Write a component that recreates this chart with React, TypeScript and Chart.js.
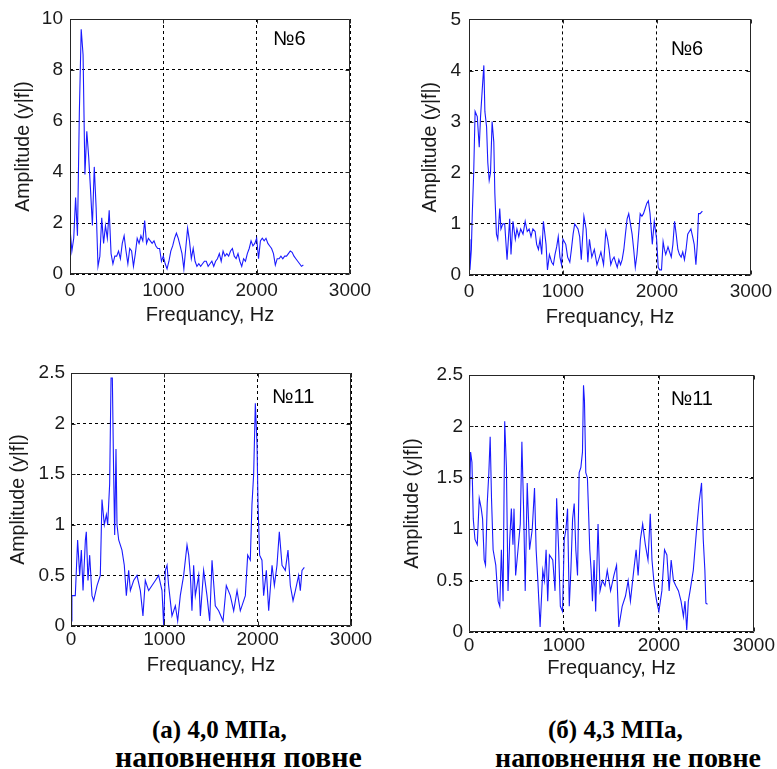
import React, { useEffect, useRef } from "react";
import { Chart, registerables } from "chart.js";

Chart.register(...registerables);

// ---------- DATA ----------
const X_TICKS = [0, 1000, 2000, 3000];
const Y_TICKS_A6 = [0, 2, 4, 6, 8, 10];
const Y_TICKS_B6 = [0, 1, 2, 3, 4, 5];
const Y_TICKS_11 = [0, 0.5, 1, 1.5, 2, 2.5];

const X_TITLE = "Frequancy, Hz";
const Y_TITLE = "Amplitude (y|f|)";

// (a) 4,0 MPa, sensor №6
const FREQ_A6 = [0, 20, 40, 60, 80, 100, 120, 140, 160, 180, 200, 220, 240, 260, 280, 300, 320, 340, 360, 380, 400, 420, 440, 460, 480, 500, 520, 540, 560, 580, 600, 620, 640, 660, 680, 700, 720, 740, 760, 780, 800, 820, 840, 860, 880, 900, 920, 940, 960, 980, 1000, 1020, 1040, 1060, 1080, 1100, 1120, 1140, 1160, 1180, 1200, 1220, 1240, 1260, 1280, 1300, 1320, 1340, 1360, 1380, 1400, 1420, 1440, 1460, 1480, 1500, 1520, 1540, 1560, 1580, 1600, 1620, 1640, 1660, 1680, 1700, 1720, 1740, 1760, 1780, 1800, 1820, 1840, 1860, 1880, 1900, 1920, 1940, 1960, 1980, 2000, 2020, 2040, 2060, 2080, 2100, 2120, 2140, 2160, 2180, 2200, 2220, 2240, 2260, 2280, 2300, 2320, 2340, 2360, 2380, 2400, 2420, 2440, 2460, 2480, 2500];
const AMP_A6 = [1.8, 0.9, 1.4, 3.0, 1.5, 6.3, 9.6, 8.6, 3.9, 5.6, 4.6, 3.3, 1.9, 4.2, 2.6, 0.3, 0.7, 2.2, 1.2, 1.9, 1.4, 2.5, 0.8, 0.4, 0.7, 0.7, 0.9, 0.6, 1.2, 1.5, 0.9, 0.4, 1.0, 0.9, 0.3, 0.8, 1.4, 1.2, 1.5, 1.3, 2.1, 1.2, 1.4, 1.3, 1.2, 1.3, 1.1, 1.0, 1.0, 0.5, 0.7, 0.4, 0.2, 0.5, 0.9, 1.1, 1.4, 1.6, 1.4, 1.1, 0.8, 0.2, 1.0, 1.8, 1.3, 0.6, 1.0, 0.5, 0.3, 0.4, 0.3, 0.4, 0.5, 0.5, 0.3, 0.4, 0.5, 0.3, 0.5, 0.6, 0.8, 0.5, 0.9, 0.7, 0.8, 0.7, 0.9, 1.0, 0.7, 0.6, 0.8, 0.5, 0.3, 0.6, 0.5, 0.8, 1.0, 1.3, 1.1, 1.2, 1.4, 0.6, 1.3, 1.4, 1.3, 1.4, 1.2, 1.1, 1.0, 0.8, 0.35, 0.6, 0.6, 0.7, 0.6, 0.7, 0.7, 0.8, 0.9, 0.85, 0.7, 0.6, 0.5, 0.4, 0.3, 0.35];

// (б) 4,3 MPa, sensor №6
const FREQ_B6 = [0, 10, 25, 35, 50, 65, 88, 109, 123, 140, 158, 169, 187, 200, 215, 229, 246, 264, 275, 292, 306, 327, 340, 360, 380, 405, 433, 447, 468, 493, 510, 530, 550, 575, 598, 620, 640, 660, 680, 704, 720, 739, 756, 774, 792, 820, 835, 856, 880, 898, 915, 933, 950, 968, 985, 1000, 1015, 1030, 1050, 1073, 1090, 1108, 1125, 1143, 1160, 1178, 1195, 1223, 1247, 1265, 1282, 1307, 1334, 1362, 1380, 1404, 1432, 1456, 1475, 1491, 1509, 1527, 1544, 1560, 1578, 1595, 1613, 1630, 1648, 1665, 1683, 1700, 1718, 1736, 1753, 1770, 1788, 1805, 1822, 1840, 1857, 1875, 1892, 1909, 1927, 1951, 1972, 1997, 2014, 2030, 2049, 2066, 2080, 2094, 2118, 2135, 2153, 2170, 2188, 2205, 2223, 2240, 2258, 2275, 2293, 2310, 2328, 2345, 2362, 2380, 2397, 2415, 2430, 2443, 2460, 2484];
const AMP_B6 = [0.7, 0.1, 0.5, 1.2, 2.0, 3.2, 3.1, 2.5, 3.1, 3.6, 4.1, 3.2, 2.9, 2.2, 1.85, 2.0, 3.0, 2.6, 1.6, 0.8, 0.7, 1.3, 0.9, 1.0, 1.0, 0.3, 1.1, 0.4, 1.05, 0.7, 0.9, 0.75, 0.9, 0.8, 1.05, 0.85, 0.9, 0.75, 0.9, 0.85, 0.6, 0.5, 0.7, 0.4, 1.05, 0.6, 0.1, 0.4, 0.25, 0.2, 0.4, 0.55, 0.75, 0.35, 0.2, 0.7, 0.65, 0.6, 0.35, 0.25, 0.5, 0.8, 1.0, 0.95, 0.9, 0.75, 0.3, 1.15, 0.9, 0.25, 0.7, 0.35, 0.5, 0.2, 0.3, 0.45, 0.2, 0.85, 0.7, 0.5, 0.2, 0.3, 0.35, 0.25, 0.15, 0.3, 0.2, 0.3, 0.5, 0.8, 1.1, 1.2, 1.0, 0.8, 0.5, 0.15, 0.4, 0.8, 1.2, 1.15, 1.2, 1.3, 1.4, 1.45, 1.2, 0.6, 1.05, 0.7, 0.15, 0.1, 0.1, 0.65, 0.5, 0.4, 0.55, 0.45, 0.35, 0.6, 1.05, 0.8, 0.5, 0.4, 0.35, 0.45, 0.3, 0.5, 0.8, 0.85, 0.9, 0.75, 0.6, 0.2, 0.6, 1.2, 1.2, 1.25];

// (a) 4,0 MPa, sensor №11
const FREQ_A11 = [0, 10, 46, 71, 93, 111, 129, 154, 164, 182, 200, 225, 243, 279, 314, 332, 357, 379, 393, 414, 429, 443, 457, 468, 482, 493, 511, 546, 571, 593, 618, 636, 671, 707, 743, 771, 796, 832, 868, 904, 939, 975, 993, 1011, 1029, 1046, 1082, 1118, 1143, 1171, 1207, 1243, 1261, 1279, 1296, 1314, 1332, 1368, 1386, 1421, 1457, 1486, 1511, 1546, 1582, 1629, 1664, 1707, 1743, 1779, 1814, 1868, 1893, 1921, 1939, 1957, 1975, 1993, 2004, 2021, 2046, 2064, 2093, 2118, 2154, 2179, 2207, 2232, 2261, 2296, 2325, 2350, 2379, 2404, 2439, 2457, 2475, 2500];
const AMP_A11 = [0.05, 0.3, 0.3, 0.85, 0.5, 0.75, 0.35, 0.85, 0.93, 0.45, 0.7, 0.3, 0.25, 0.4, 0.5, 1.25, 1.0, 1.1, 1.0, 1.4, 2.45, 2.45, 1.5, 0.9, 1.75, 1.0, 0.85, 0.75, 0.6, 0.3, 0.55, 0.35, 0.45, 0.5, 0.35, 0.1, 0.45, 0.35, 0.4, 0.45, 0.5, 0.35, 0.0, 0.55, 0.6, 0.4, 0.1, 0.2, 0.05, 0.3, 0.5, 0.8, 0.7, 0.5, 0.15, 0.6, 0.3, 0.5, 0.1, 0.55, 0.3, 0.05, 0.65, 0.2, 0.15, 0.05, 0.4, 0.3, 0.15, 0.35, 0.15, 0.3, 0.7, 0.65, 1.2, 1.5, 2.2, 1.8, 1.2, 0.7, 0.65, 0.3, 0.55, 0.15, 0.6, 0.4, 0.6, 0.93, 0.6, 0.55, 0.75, 0.4, 0.25, 0.35, 0.5, 0.35, 0.55, 0.58];

// (б) 4,3 MPa, sensor №11
const FREQ_B11 = [0, 17, 31, 45, 63, 87, 108, 129, 143, 160, 174, 192, 209, 223, 237, 254, 282, 307, 324, 341, 359, 376, 394, 411, 429, 446, 463, 474, 491, 516, 540, 557, 575, 592, 613, 638, 666, 690, 707, 725, 749, 777, 794, 812, 829, 847, 882, 906, 923, 944, 962, 985, 1003, 1021, 1038, 1056, 1073, 1091, 1108, 1125, 1143, 1160, 1178, 1195, 1206, 1216, 1230, 1247, 1258, 1272, 1286, 1300, 1317, 1334, 1359, 1380, 1404, 1432, 1456, 1491, 1526, 1554, 1578, 1613, 1648, 1676, 1700, 1735, 1760, 1781, 1805, 1829, 1857, 1885, 1909, 1927, 1951, 1976, 2000, 2031, 2059, 2084, 2108, 2129, 2153, 2178, 2206, 2233, 2258, 2275, 2293, 2310, 2328, 2362, 2397, 2422, 2449, 2467, 2484, 2495, 2512];
const AMP_B11 = [1.1, 1.75, 1.65, 1.1, 0.9, 0.85, 1.3, 1.2, 1.1, 0.7, 0.65, 1.25, 1.55, 1.9, 1.3, 0.8, 0.65, 0.3, 0.25, 0.8, 0.3, 2.05, 1.6, 0.4, 0.9, 1.2, 0.85, 1.2, 0.55, 0.8, 1.05, 1.85, 1.2, 0.4, 1.45, 0.8, 1.0, 1.4, 0.8, 0.5, 0.05, 0.6, 0.5, 0.8, 0.3, 0.75, 0.7, 0.4, 1.3, 0.8, 0.25, 0.2, 0.9, 1.0, 1.2, 0.25, 0.6, 1.1, 1.25, 0.8, 0.55, 1.55, 1.6, 1.75, 2.4, 2.25, 1.55, 1.5, 1.2, 0.8, 0.6, 0.3, 0.7, 0.2, 1.05, 0.4, 0.5, 0.45, 0.6, 0.4, 0.55, 0.65, 0.05, 0.25, 0.35, 0.5, 0.3, 0.6, 0.8, 0.55, 0.9, 1.05, 0.85, 0.7, 1.15, 0.7, 0.45, 0.3, 0.2, 0.4, 0.8, 0.75, 0.4, 0.7, 0.5, 0.45, 0.4, 0.3, 0.15, 0.3, 0.02, 0.3, 0.4, 0.6, 1.0, 1.25, 1.45, 0.9, 0.6, 0.28, 0.27];

const LABEL_6 = "№6";
const LABEL_11 = "№11";

const CAPTION_A = ["(а) 4,0 МПа,", "наповнення повне"];
const CAPTION_B = ["(б) 4,3 МПа,", "наповнення не повне"];

// ---------- STYLE ----------
const SANS = '"Liberation Sans", Arial, sans-serif';
const SERIF = '"Liberation Serif", "Times New Roman", serif';
const TEXT = "#1a1a1a";

type Layout = {
  left: number; top: number; w: number; h: number;
  padTop: number; padRight: number;
  yW: number; xH: number;
  yTickPad: number; xTickPad: number;
  yTitlePad: number; xTitlePad: number;
};

const framePlugin = {
  id: "matlabFrame",
  afterDatasetsDraw(chart: any, _args: any, opts: any) {
    const { ctx, chartArea: a, scales } = chart;
    ctx.save();
    const L = Math.round(a.left) + 0.5;
    const R = Math.round(a.right) - 0.5;
    const T = Math.round(a.top) + 0.5;
    const B = Math.round(a.bottom) - 0.5;
    ctx.strokeStyle = "#262626";
    ctx.lineWidth = 1;
    ctx.setLineDash([]);
    ctx.beginPath();
    ctx.rect(L, T, R - L, B - T);
    ctx.stroke();
    const tl = 4;
    ctx.beginPath();
    for (const t of scales.x.ticks) {
      const px = Math.round(scales.x.getPixelForValue(t.value)) + 0.5;
      ctx.moveTo(px, B); ctx.lineTo(px, B - tl);
      ctx.moveTo(px, T); ctx.lineTo(px, T + tl);
    }
    for (const t of scales.y.ticks) {
      const py = Math.round(scales.y.getPixelForValue(t.value)) + 0.5;
      ctx.moveTo(L, py); ctx.lineTo(L + tl, py);
      ctx.moveTo(R, py); ctx.lineTo(R - tl, py);
    }
    ctx.stroke();
    if (opts && opts.text) {
      ctx.fillStyle = "#000";
      ctx.font = `20px ${SANS}`;
      ctx.textAlign = "left";
      ctx.textBaseline = "middle";
      ctx.fillText(opts.text, scales.x.getPixelForValue(opts.x), scales.y.getPixelForValue(opts.y));
    }
    ctx.restore();
  },
};

function Panel(props: {
  freq: number[]; amp: number[]; yTicks: number[];
  label: string; labelX: number; labelY: number; lay: Layout;
}) {
  const ref = useRef<HTMLCanvasElement | null>(null);
  const { freq, amp, yTicks, label, labelX, labelY, lay } = props;
  useEffect(() => {
    if (!ref.current) return;
    const tickFont = { family: SANS, size: 19 };
    const xTitleFont = { family: SANS, size: 20 };
    const yTitleFont = { family: SANS, size: 19.5 };
    const chart = new Chart(ref.current, {
      type: "line",
      data: {
        datasets: [
          {
            data: freq.map((f, i) => ({ x: f, y: amp[i] })),
            borderColor: "#1a1aff",
            borderWidth: 1.1,
            pointRadius: 0,
            tension: 0,
            fill: false,
          },
        ],
      },
      options: {
        animation: false,
        responsive: false,
        maintainAspectRatio: false,
        devicePixelRatio: 1,
        layout: { padding: { top: lay.padTop, right: lay.padRight, left: 0, bottom: 0 } },
        plugins: {
          legend: { display: false },
          tooltip: { enabled: false },
          matlabFrame: { text: label, x: labelX, y: labelY },
        } as any,
        scales: {
          x: {
            type: "linear",
            min: X_TICKS[0],
            max: X_TICKS[X_TICKS.length - 1],
            afterBuildTicks: (s: any) => { s.ticks = X_TICKS.map((v) => ({ value: v })); },
            afterFit: (s: any) => { s.height = lay.xH; },
            ticks: { callback: (v: any) => String(v), font: tickFont, color: TEXT, padding: lay.xTickPad, maxRotation: 0, autoSkip: false },
            grid: { color: "#000", lineWidth: 1, drawTicks: false },
            border: { display: false, dash: [3, 3] },
            title: { display: true, text: X_TITLE, font: xTitleFont, color: TEXT, padding: { top: 0, bottom: lay.xTitlePad } },
          },
          y: {
            type: "linear",
            min: yTicks[0],
            max: yTicks[yTicks.length - 1],
            afterBuildTicks: (s: any) => { s.ticks = yTicks.map((v) => ({ value: v })); },
            afterFit: (s: any) => { s.width = lay.yW; },
            ticks: { callback: (v: any) => String(v), font: tickFont, color: TEXT, padding: lay.yTickPad, autoSkip: false },
            grid: { color: "#000", lineWidth: 1, drawTicks: false },
            border: { display: false, dash: [3, 3] },
            title: { display: true, text: Y_TITLE, font: yTitleFont, color: TEXT, padding: { top: lay.yTitlePad, bottom: 0 } },
          },
        },
      },
      plugins: [framePlugin],
    } as any);
    return () => chart.destroy();
  }, []);
  return (
    <canvas
      ref={ref}
      width={lay.w}
      height={lay.h}
      style={{ position: "absolute", left: lay.left, top: lay.top, width: lay.w, height: lay.h }}
    />
  );
}

const LAY_A6: Layout = { left: 0, top: 0, w: 388, h: 345, padTop: 19, padRight: 38, yW: 70, xH: 71, yTickPad: 7, xTickPad: 5, yTitlePad: 12, xTitlePad: 18 };
const LAY_B6: Layout = { left: 388, top: 0, w: 389, h: 345, padTop: 17, padRight: 20, yW: 81, xH: 70, yTickPad: 8, xTickPad: 5, yTitlePad: 31, xTitlePad: 16 };
const LAY_A11: Layout = { left: 0, top: 345, w: 388, h: 340, padTop: 28, padRight: 37, yW: 71, xH: 59, yTickPad: 6, xTickPad: 2, yTitlePad: 7, xTitlePad: 8 };
const LAY_B11: Layout = { left: 388, top: 345, w: 389, h: 340, padTop: 30, padRight: 20, yW: 81, xH: 53, yTickPad: 6, xTickPad: 2, yTitlePad: 13, xTitlePad: 5 };

function Caption(props: { text: string; left: number; top: number; size: number }) {
  return (
    <div
      style={{
        position: "absolute",
        left: props.left,
        top: props.top,
        fontFamily: SERIF,
        fontWeight: "bold",
        fontSize: props.size,
        lineHeight: `${props.size}px`,
        whiteSpace: "nowrap",
        color: "#000",
      }}
    >
      {props.text}
    </div>
  );
}

export default function App() {
  return (
    <div style={{ position: "absolute", left: 0, top: 0, width: 777, height: 769, background: "#fff", overflow: "hidden" }}>
      <Panel freq={FREQ_A6} amp={AMP_A6} yTicks={Y_TICKS_A6} label={LABEL_6} labelX={2175} labelY={9.2} lay={LAY_A6} />
      <Panel freq={FREQ_B6} amp={AMP_B6} yTicks={Y_TICKS_B6} label={LABEL_6} labelX={2146} labelY={4.42} lay={LAY_B6} />
      <Panel freq={FREQ_A11} amp={AMP_A11} yTicks={Y_TICKS_11} label={LABEL_11} labelX={2154} labelY={2.26} lay={LAY_A11} />
      <Panel freq={FREQ_B11} amp={AMP_B11} yTicks={Y_TICKS_11} label={LABEL_11} labelX={2125} labelY={2.26} lay={LAY_B11} />
      <Caption text={CAPTION_A[0]} left={152} top={717} size={25} />
      <Caption text={CAPTION_A[1]} left={115} top={742} size={30} />
      <Caption text={CAPTION_B[0]} left={548} top={717} size={25} />
      <Caption text={CAPTION_B[1]} left={495} top={744} size={28} />
    </div>
  );
}
